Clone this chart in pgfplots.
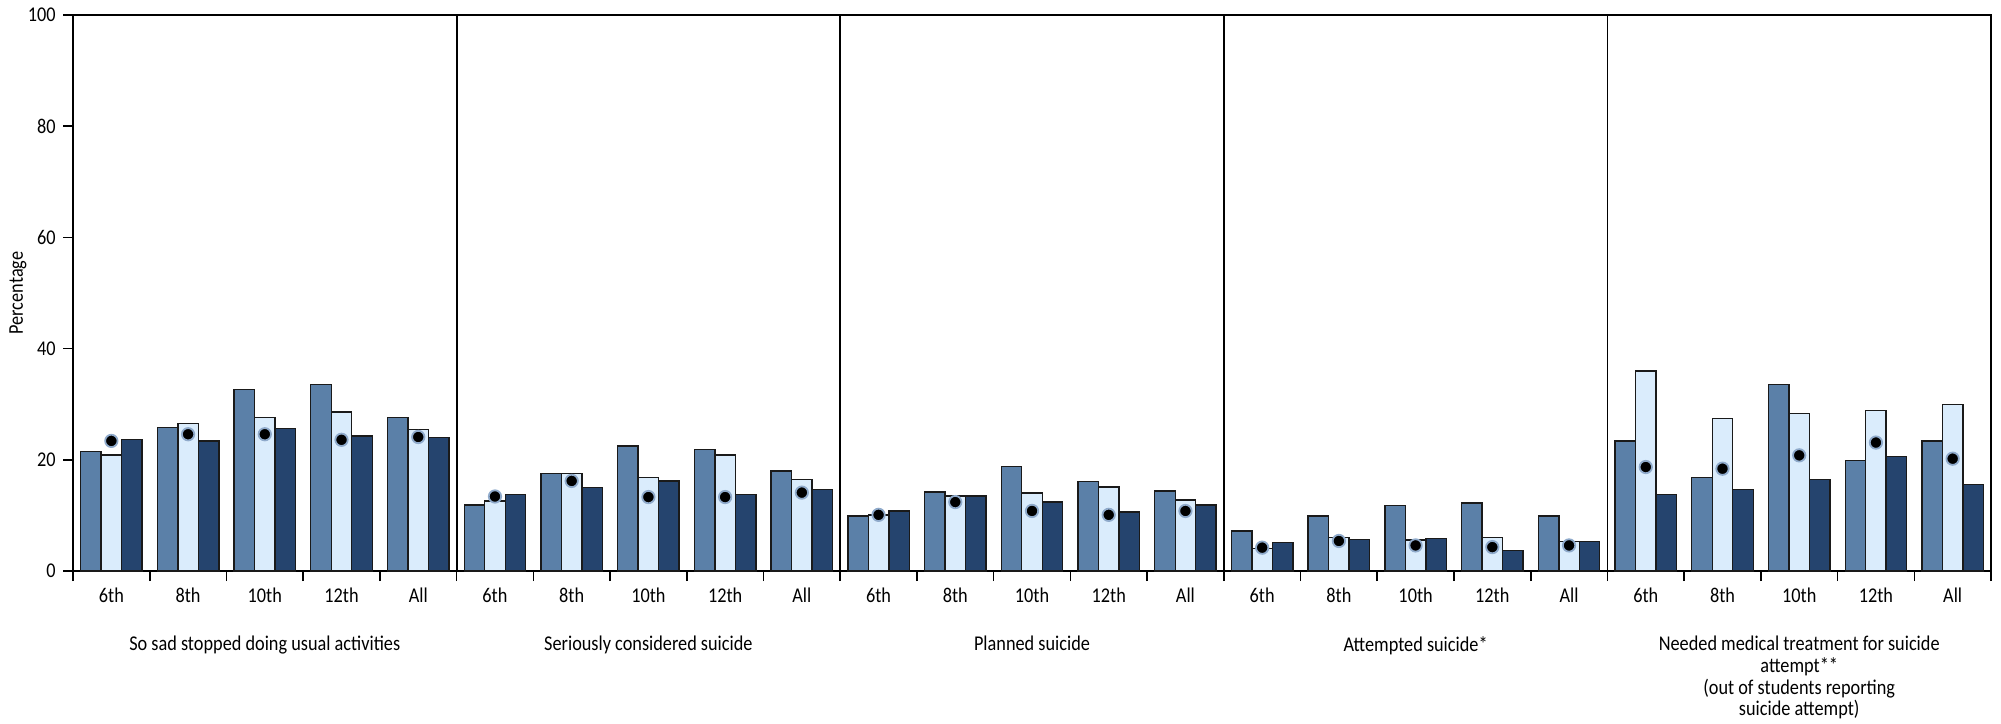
\documentclass[border=0pt]{standalone}
\usepackage{fontspec}
\setmainfont{Carlito}[FakeStretch=0.87]
\usepackage{pgfplots}
\usepackage{pgfplotstable}
\pgfplotsset{compat=1.18}
\definecolor{cA}{HTML}{5B80A8}
\definecolor{cB}{HTML}{DAECFC}
\definecolor{cC}{HTML}{25446E}
\definecolor{halo}{HTML}{8FAACB}
\definecolor{edge}{HTML}{1A1A1A}
% x = 5*panel + group ; A = medium blue, B = light blue, C = dark navy, D = dot
\pgfplotstableread{
x A B C D
0 21.5 20.9 23.6 23.4
1 25.8 26.5 23.4 24.6
2 32.6 27.6 25.6 24.6
3 33.5 28.6 24.3 23.6
4 27.6 25.5 24.0 24.1
5 11.9 12.6 13.8 13.4
6 17.5 17.5 15.0 16.2
7 22.5 16.8 16.2 13.3
8 21.8 20.9 13.8 13.3
9 18.0 16.5 14.7 14.1
10 9.9 10.1 10.8 10.1
11 14.2 13.5 13.5 12.4
12 18.8 14.0 12.4 10.8
13 16.1 15.1 10.6 10.1
14 14.4 12.8 11.9 10.8
15 7.2 4.1 5.1 4.2
16 9.9 6.0 5.7 5.4
17 11.8 5.6 5.9 4.6
18 12.2 6.0 3.7 4.3
19 9.9 5.3 5.3 4.6
20 23.4 36.0 13.8 18.7
21 16.8 27.4 14.7 18.4
22 33.5 28.3 16.5 20.8
23 19.9 28.9 20.6 23.1
24 23.4 29.9 15.6 20.2
}\datatable
\begin{document}
\fontsize{10.5}{10.8}\selectfont
\begin{tikzpicture}
\begin{axis}[
  scale only axis, width=959pt, height=278pt,
  xmin=-0.5, xmax=24.5, ymin=0, ymax=100,
  ytick={0,20,...,100}, ytick pos=left,
  xtick={-0.5,0.5,...,24.5}, xtick pos=bottom,
  x tick label as interval=true,
  xticklabels={6th,8th,10th,12th,All,6th,8th,10th,12th,All,6th,8th,10th,12th,All,6th,8th,10th,12th,All,6th,8th,10th,12th,All},
  tick align=outside, major tick length=5pt,
  tick style={black, line width=0.8pt},
  axis line style={line width=0.8pt},
  bar width=0.267,
  /pgf/number format/assume math mode=true,
  tick label style={font=\fontsize{10.5}{10.8}\selectfont},
  clip=false,
]
\addplot[ybar, bar shift=-0.267, fill=cA, draw=edge, line width=0.7pt] table[x=x, y=A] {\datatable};
\addplot[ybar, bar shift=0, fill=cB, draw=edge, line width=0.7pt] table[x=x, y=B] {\datatable};
\addplot[ybar, bar shift=0.267, fill=cC, draw=edge, line width=0.7pt] table[x=x, y=C] {\datatable};
\addplot[only marks, mark=*, mark size=3.1pt, mark options={fill=black, draw=halo, line width=0.9pt}] table[x=x, y=D] {\datatable};
\foreach \s in {4.5,9.5,14.5,19.5} {
  \edef\temp{\noexpand\draw[line width=0.9pt, black] (axis cs:\s,0) -- (axis cs:\s,100);}
  \temp
}
\node[anchor=north, inner sep=0pt, yshift=-32.5pt] at (axis cs:2,0) {So sad stopped doing usual activities};
\node[anchor=north, inner sep=0pt, yshift=-32.5pt] at (axis cs:7,0) {Seriously considered suicide};
\node[anchor=north, inner sep=0pt, yshift=-32.5pt] at (axis cs:12,0) {Planned suicide};
\node[anchor=north, inner sep=0pt, yshift=-32.5pt] at (axis cs:17,0) {Attempted suicide*};
\node[anchor=north, inner sep=0pt, yshift=-32.5pt, align=center] at (axis cs:22,0) {Needed medical treatment for suicide\\attempt**\\(out of students reporting\\suicide attempt)};
\coordinate (BL) at (rel axis cs:0,0);
\coordinate (TR) at (rel axis cs:1,1);
\coordinate (ML) at (rel axis cs:0,0.5);
\end{axis}
\node[rotate=90, anchor=center] at ([xshift=-27.5pt]ML) {Percentage};
\pgfresetboundingbox
\path[use as bounding box] ([shift={(-36.5pt,-76pt)}]BL) rectangle ([shift={(5pt,7.5pt)}]TR);
\end{tikzpicture}
\end{document}
